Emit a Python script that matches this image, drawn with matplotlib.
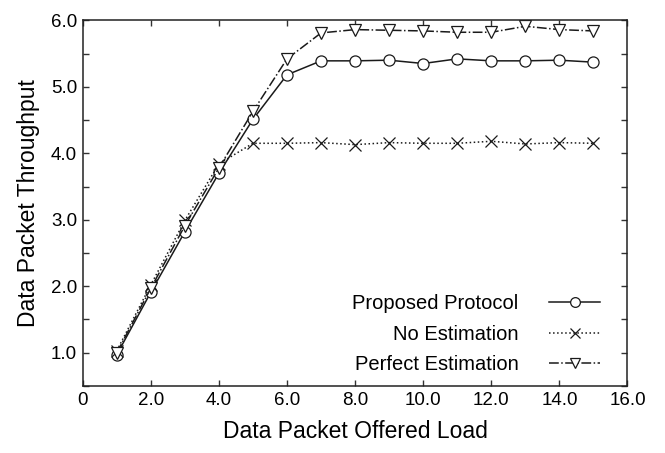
import numpy as np
import matplotlib
matplotlib.use("Agg")
from matplotlib import pyplot as plt
from matplotlib.ticker import FixedLocator, FuncFormatter, MultipleLocator

plt.rcParams['font.family'] = ['Liberation Sans', 'DejaVu Sans']

# Offered load (x) and throughput of each scheme
load = [1, 2, 3, 4, 5, 6, 7, 8, 9, 10, 11, 12, 13, 14, 15]
proposed = [0.97, 1.91, 2.82, 3.70, 4.51, 5.18, 5.39, 5.39, 5.40, 5.35, 5.42, 5.39, 5.39, 5.40, 5.37]
no_estimation = [1.03, 2.02, 2.99, 3.84, 4.15, 4.15, 4.16, 4.13, 4.16, 4.15, 4.15, 4.18, 4.14, 4.16, 4.15]
perfect = [1.00, 1.97, 2.91, 3.78, 4.63, 5.42, 5.81, 5.86, 5.85, 5.84, 5.82, 5.82, 5.91, 5.86, 5.84]

series_labels = ['Proposed Protocol', 'No Estimation', 'Perfect Estimation']
x_ticks = [0, 2, 4, 6, 8, 10, 12, 14, 16]
y_ticks = [1, 2, 3, 4, 5, 6]

fig = plt.figure(figsize=(6.65, 4.53), dpi=100)
ax = fig.add_axes([0.1244, 0.148, 0.8192, 0.8072])

col = '#1a1a1a'
ax.plot(load, proposed, '-', color=col, lw=1.1, marker='o', ms=8,
        mfc='white', mec=col, mew=0.9, label=series_labels[0])
ax.plot(load, no_estimation, ':', color=col, lw=1.1, marker='x', ms=8,
        mec=col, mew=0.9, label=series_labels[1])
ax.plot(load, perfect, '-.', color=col, lw=1.1, marker='v', ms=8,
        mfc='white', mec=col, mew=0.9, label=series_labels[2])

ax.set_xlim(0, 16)
ax.set_ylim(0.5, 6.0)
ax.xaxis.set_major_locator(FixedLocator(x_ticks))
ax.yaxis.set_major_locator(FixedLocator(y_ticks))
ax.yaxis.set_minor_locator(MultipleLocator(0.5))
ax.xaxis.set_major_formatter(FuncFormatter(lambda v, p: '0' if v == 0 else '%.1f' % v))
ax.yaxis.set_major_formatter(FuncFormatter(lambda v, p: '%.1f' % v))

ax.tick_params(which='both', direction='in', top=True, right=True,
               labelsize=13.5, width=1, color='#333333', pad=4)
ax.tick_params(which='major', length=4)
ax.tick_params(which='minor', length=4)
for s in ax.spines.values():
    s.set_linewidth(1.1)
    s.set_color('#222222')

ax.set_xlabel('Data Packet Offered Load', fontsize=16.5, labelpad=8)
ax.set_ylabel('Data Packet Throughput', fontsize=16.5, labelpad=8)

leg = ax.legend(loc='lower right', frameon=False, markerfirst=False, fontsize=14.5,
                handlelength=2.5, labelspacing=0.56, handletextpad=1.55,
                borderaxespad=0.0, bbox_to_anchor=(0.964, 0.011))
for h in leg.legend_handles:
    h.set_markersize(7)

fig.savefig('out.png', dpi=100)
